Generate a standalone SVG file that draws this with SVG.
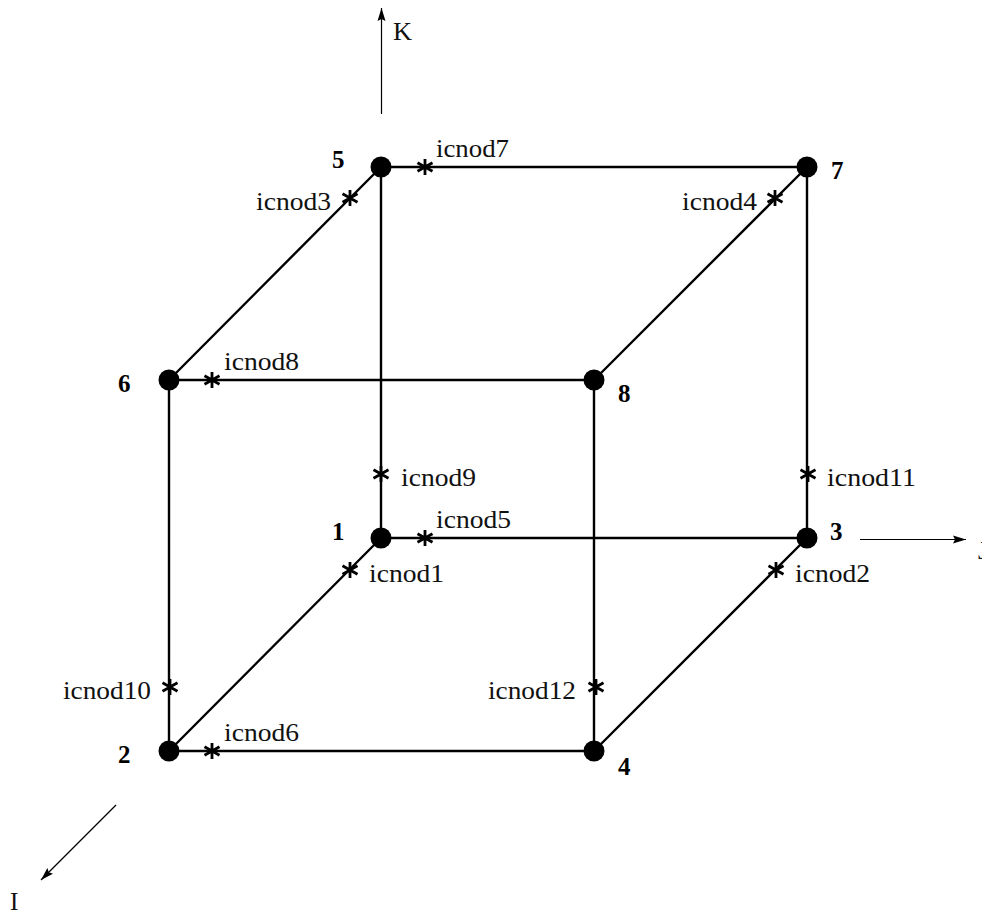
<svg xmlns="http://www.w3.org/2000/svg" width="982" height="912" viewBox="0 0 982 912">
<style>
text{font-family:"Liberation Serif","Times New Roman",serif;font-size:25px;fill:#111}
.b{font-weight:bold;fill:#000}
.e{stroke:#000;stroke-width:2.4;fill:none}
.a{stroke:#000;stroke-width:1.2;fill:none;marker-end:url(#ah)}
.s{stroke:#000;stroke-width:2.8;fill:none}
</style>
<defs>
<marker id="ah" markerUnits="userSpaceOnUse" markerWidth="14" markerHeight="9" refX="13" refY="4.500" orient="auto"><path d="M0 0.500L13 4.500L0 8.500L2 4.500Z" fill="#000"/></marker>
<g id="st" class="s"><path d="M0-8V8M-7.500-4.200L7.500 4.200M-7.500 4.200L7.500-4.200"/></g>
</defs>
<rect width="982" height="912" fill="#fff"/>
<g id="connectors">
<path class="e" d="M381 167H807M169 380H594M381 538H807M169 751H594M381 167V538M169 380V751M594 380V751M807 167V538M381 167L169 380M807 167L594 380M381 538L169 751M807 538L594 751"/>
<path class="a" d="M381.500 114V8"/>
<path class="a" d="M860 539.500H966"/>
<path class="a" d="M116 805L41 880"/>
<use href="#st" x="425" y="167"/><use href="#st" x="350" y="198"/><use href="#st" x="775" y="198"/>
<use href="#st" x="212" y="380"/><use href="#st" x="381" y="474"/><use href="#st" x="808" y="474"/>
<use href="#st" x="425" y="538"/><use href="#st" x="350" y="570"/><use href="#st" x="776" y="570"/>
<use href="#st" x="170" y="687"/><use href="#st" x="596" y="687"/><use href="#st" x="212" y="751"/>
</g>
<g id="axis-labels">
<text x="393" y="40" textLength="19" lengthAdjust="spacingAndGlyphs">K</text>
<text x="978" y="559">J</text>
<text x="10" y="910">I</text>
</g>
<g id="node1"><circle cx="381" cy="538" r="10.500"/><text class="b" x="332" y="540">1</text></g>
<g id="node2"><circle cx="169" cy="751" r="10.500"/><text class="b" x="118" y="763">2</text></g>
<g id="node3"><circle cx="807" cy="538" r="10.500"/><text class="b" x="830" y="540">3</text></g>
<g id="node4"><circle cx="594" cy="751" r="10.500"/><text class="b" x="618" y="775">4</text></g>
<g id="node5"><circle cx="381" cy="167" r="10.500"/><text class="b" x="332" y="168">5</text></g>
<g id="node6"><circle cx="169" cy="380" r="10.500"/><text class="b" x="118" y="392">6</text></g>
<g id="node7"><circle cx="807" cy="167" r="10.500"/><text class="b" x="831" y="179">7</text></g>
<g id="node8"><circle cx="594" cy="380" r="10.500"/><text class="b" x="618" y="402">8</text></g>
<g id="labels">
<text x="436" y="157" textLength="73" lengthAdjust="spacingAndGlyphs">icnod7</text>
<text x="256" y="210" textLength="75" lengthAdjust="spacingAndGlyphs">icnod3</text>
<text x="682" y="210" textLength="75" lengthAdjust="spacingAndGlyphs">icnod4</text>
<text x="224" y="370" textLength="75" lengthAdjust="spacingAndGlyphs">icnod8</text>
<text x="401" y="486" textLength="75" lengthAdjust="spacingAndGlyphs">icnod9</text>
<text x="827" y="486" textLength="89" lengthAdjust="spacingAndGlyphs">icnod11</text>
<text x="436" y="528" textLength="75" lengthAdjust="spacingAndGlyphs">icnod5</text>
<text x="369" y="582" textLength="75" lengthAdjust="spacingAndGlyphs">icnod1</text>
<text x="795" y="582" textLength="75" lengthAdjust="spacingAndGlyphs">icnod2</text>
<text x="63" y="699" textLength="88" lengthAdjust="spacingAndGlyphs">icnod10</text>
<text x="488" y="699" textLength="88" lengthAdjust="spacingAndGlyphs">icnod12</text>
<text x="224" y="741" textLength="75" lengthAdjust="spacingAndGlyphs">icnod6</text>
</g>
</svg>
